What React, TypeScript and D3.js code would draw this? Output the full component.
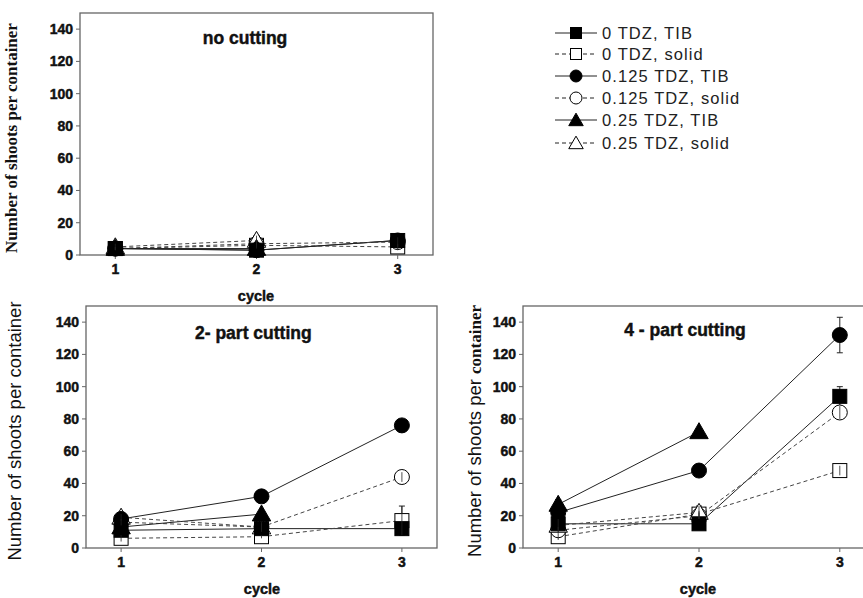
import React from "react";
import * as d3 from "d3";

const cycles = [1, 2, 3];
const seriesNames = ["0 TDZ, TIB", "0 TDZ, solid", "0.125 TDZ, TIB", "0.125 TDZ, solid", "0.25 TDZ, TIB", "0.25 TDZ, solid"];
const seriesShape = ["square", "square", "circle", "circle", "triangle", "triangle"];
const seriesFilled = [true, false, true, false, true, false];
const yTicks = [0, 20, 40, 60, 80, 100, 120, 140];

// no cutting
const noCutValues: (number | null)[][] = [
  [4, 3, 9],
  [4, 6, 5],
  [4, 3, 9],
  [4, 7, 8],
  [4, 4, null],
  [5, 9, null],
];
const noCutErrors: number[][] = [
  [1, 1, 3],
  [1, 2, 2],
  [1, 1, 3],
  [1, 2, 3],
  [1, 1, 0],
  [2, 3, 0],
];
// 2-part cutting
const twoPartValues: (number | null)[][] = [
  [11, 12, 12],
  [6, 7, 17],
  [18, 32, 76],
  [16, 13, 44],
  [13, 21, null],
  [19, 13, null],
];
const twoPartErrors: number[][] = [
  [2, 1, 2],
  [2, 1, 9],
  [2, 1, 1],
  [2, 2, 3],
  [2, 1, 0],
  [2, 3, 0],
];
// 4-part cutting
const fourPartValues: (number | null)[][] = [
  [15, 15, 94],
  [7, 21, 48],
  [22, 48, 132],
  [11, 20, 84],
  [27, 72, null],
  [14, 22, null],
];
const fourPartErrors: number[][] = [
  [2, 1, 6],
  [2, 2, 3],
  [2, 1, 11],
  [2, 2, 4],
  [3, 1, 0],
  [4, 4, 0],
];

type Panel = {
  title: string;
  values: (number | null)[][];
  errors: number[][];
  left: number; right: number; top: number; bottom: number;
  titleX: number; titleY: number; titleAnchor: string;
  ylabX: number; ylabStyle: string;
  cycleX: number; cycleY: number;
};

const panels: Panel[] = [
  { title: "no cutting", values: noCutValues, errors: noCutErrors, left: 80, right: 433, top: 13, bottom: 255, titleX: 245, titleY: 44, titleAnchor: "middle", ylabX: 17, ylabStyle: "serif", cycleX: 256, cycleY: 301 },
  { title: "2- part cutting", values: twoPartValues, errors: twoPartErrors, left: 86, right: 437, top: 306, bottom: 548, titleX: 195, titleY: 339, titleAnchor: "start", ylabX: 21, ylabStyle: "sans", cycleX: 262, cycleY: 594 },
  { title: "4 - part cutting", values: fourPartValues, errors: fourPartErrors, left: 523, right: 875, top: 306, bottom: 548, titleX: 685, titleY: 336, titleAnchor: "middle", ylabX: 481, ylabStyle: "mixed", cycleX: 698, cycleY: 594 },
];

const boldFont = "Liberation Sans, Arial, sans-serif";

function Marker({ shape, filled, x, y, s }: { shape: string; filled: boolean; x: number; y: number; s: number }) {
  const fill = filled ? "#000" : "#fff";
  const stroke = "#000";
  if (shape === "square") {
    return <rect x={x - s / 2} y={y - s / 2} width={s} height={s} fill={fill} stroke={stroke} strokeWidth={1} />;
  }
  if (shape === "circle") {
    return <circle cx={x} cy={y} r={s / 2 + 0.5} fill={fill} stroke={stroke} strokeWidth={1} />;
  }
  const sym = d3.symbol().type(d3.symbolTriangle).size(s * s * 0.75)();
  return <path d={sym as string} transform={`translate(${x},${y + 1.5})`} fill={fill} stroke={stroke} strokeWidth={1} />;
}

function BoldText(props: any) {
  return (
    <text fontFamily={boldFont} fontWeight="bold" fill="#111" stroke="#111" strokeWidth={0.45} {...props} />
  );
}

function PanelView({ p }: { p: Panel }) {
  const x = d3.scaleLinear().domain([0.75, 3.25]).range([p.left, p.right]);
  const y = d3.scaleLinear().domain([0, 150]).range([p.bottom, p.top]);
  const ylabCy = (p.top + p.bottom) / 2 + 4;
  const line = d3.line<[number, number]>().x(d => x(d[0])).y(d => y(d[1]));
  return (
    <g>
      <rect x={p.left} y={p.top} width={p.right - p.left} height={p.bottom - p.top} fill="#fff" stroke="#666" strokeWidth={1.3} />
      {yTicks.map(t => (
        <g key={t}>
          <line x1={p.left - 4} x2={p.left} y1={y(t)} y2={y(t)} stroke="#666" strokeWidth={1} />
          <BoldText x={p.left - 7} y={y(t) + 5} textAnchor="end" fontSize={14}>{t}</BoldText>
        </g>
      ))}
      {cycles.map(c => (
        <g key={c}>
          <line x1={x(c)} x2={x(c)} y1={p.bottom} y2={p.bottom + 4} stroke="#666" strokeWidth={1} />
          <BoldText x={x(c)} y={p.bottom + 19} textAnchor="middle" fontSize={14}>{c}</BoldText>
        </g>
      ))}
      <BoldText x={p.titleX} y={p.titleY} textAnchor={p.titleAnchor} fontSize={17.5}>{p.title}</BoldText>
      <BoldText x={p.cycleX} y={p.cycleY} textAnchor="middle" fontSize={14.5}>cycle</BoldText>
      {p.ylabStyle === "serif" && (
        <text transform={`translate(${p.ylabX},${ylabCy}) rotate(-90)`} textAnchor="middle" fontFamily="Liberation Serif, Times New Roman, serif" fontWeight="bold" fontSize={17} fill="#111">Number of shoots per container</text>
      )}
      {p.ylabStyle === "sans" && (
        <text transform={`translate(${p.ylabX},${ylabCy}) rotate(-90)`} textAnchor="middle" fontFamily={boldFont} fontSize={18.5} fill="#111">Number of shoots per container</text>
      )}
      {p.ylabStyle === "mixed" && (
        <text transform={`translate(${p.ylabX},${ylabCy}) rotate(-90)`} textAnchor="middle" fill="#111">
          <tspan fontFamily={boldFont} fontSize={18.5}>Number of shoots per </tspan>
          <tspan fontFamily="Liberation Serif, Times New Roman, serif" fontWeight="bold" fontSize={17}>container</tspan>
        </text>
      )}
      {p.values.map((vals, si) => {
        const pts = cycles.map((c, i) => [c, vals[i]] as [number, number | null]).filter(d => d[1] !== null) as [number, number][];
        return (
          <path key={"l" + si} d={line(pts) || ""} fill="none" stroke={seriesFilled[si] ? "#222" : "#444"} strokeWidth={1} strokeDasharray={seriesFilled[si] ? undefined : "4,3"} />
        );
      })}
      {p.values.map((vals, si) =>
        vals.map((v, i) => {
          if (v === null) return null;
          const e = p.errors[si][i];
          const xx = x(cycles[i]);
          return (
            <g key={"e" + si + "-" + i}>
              <line x1={xx} x2={xx} y1={y(v - e)} y2={y(v + e)} stroke="#222" strokeWidth={1} />
              <line x1={xx - 3} x2={xx + 3} y1={y(v + e)} y2={y(v + e)} stroke="#222" strokeWidth={1} />
              <line x1={xx - 3} x2={xx + 3} y1={y(v - e)} y2={y(v - e)} stroke="#222" strokeWidth={1} />
            </g>
          );
        })
      )}
      {[1, 3, 5, 0, 2, 4].map(si =>
        p.values[si].map((v, i) =>
          v === null ? null : (
            <Marker key={"m" + si + "-" + i} shape={seriesShape[si]} filled={seriesFilled[si]} x={x(cycles[i])} y={y(v)} s={14} />
          )
        )
      )}
      {p.values.map((vals, si) =>
        seriesFilled[si] ? null : vals.map((v, i) => {
          if (v === null) return null;
          const e = p.errors[si][i];
          const xx = x(cycles[i]);
          return <line key={"eo" + si + "-" + i} x1={xx} x2={xx} y1={y(v - e)} y2={y(v + e)} stroke="#222" strokeWidth={0.8} />;
        })
      )}
    </g>
  );
}

function Legend() {
  const rows = [33, 54, 76, 98, 120, 143];
  return (
    <g>
      {seriesNames.map((name, i) => (
        <g key={name}>
          <line x1={555} x2={597} y1={rows[i]} y2={rows[i]} stroke="#222" strokeWidth={1} strokeDasharray={seriesFilled[i] ? undefined : "4,3"} />
          <Marker shape={seriesShape[i]} filled={seriesFilled[i]} x={576} y={rows[i]} s={11} />
          <text x={602} y={rows[i] + 6} fontFamily={boldFont} fontSize={16.5} letterSpacing={1.1} fill="#222">{name}</text>
        </g>
      ))}
    </g>
  );
}

export default function App() {
  return (
    <svg width={863} height={598} style={{ position: "absolute", left: 0, top: 0, background: "#fff" }}>
      <rect x={0} y={0} width={863} height={598} fill="#fff" />
      {panels.map(p => <PanelView key={p.title} p={p} />)}
      <Legend />
    </svg>
  );
}
